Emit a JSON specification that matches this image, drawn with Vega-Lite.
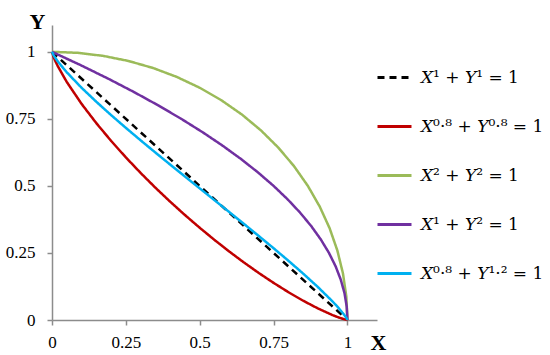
{
  "$schema": "https://vega.github.io/schema/vega-lite/v6.json",
  "width": 325,
  "height": 295,
  "autosize": {"type": "none"},
  "padding": {"left": 52, "top": 25, "right": 173, "bottom": 35},
  "background": "white",
  "config": {
    "view": {"stroke": null},
    "font": "Liberation Serif"
  },
  "datasets": {
    "curves": [
      {"s": "𝑋¹ + 𝑌¹ = 1", "x": 0, "y": 1},
      {"s": "𝑋¹ + 𝑌¹ = 1", "x": 1, "y": 0},

      {"s": "𝑋⁰·⁸ + 𝑌⁰·⁸ = 1", "x": 0, "y": 1},
      {"s": "𝑋⁰·⁸ + 𝑌⁰·⁸ = 1", "x": 0.005, "y": 0.982},
      {"s": "𝑋⁰·⁸ + 𝑌⁰·⁸ = 1", "x": 0.01, "y": 0.9687},
      {"s": "𝑋⁰·⁸ + 𝑌⁰·⁸ = 1", "x": 0.02, "y": 0.9457},
      {"s": "𝑋⁰·⁸ + 𝑌⁰·⁸ = 1", "x": 0.05, "y": 0.8876},
      {"s": "𝑋⁰·⁸ + 𝑌⁰·⁸ = 1", "x": 0.1, "y": 0.806},
      {"s": "𝑋⁰·⁸ + 𝑌⁰·⁸ = 1", "x": 0.15, "y": 0.734},
      {"s": "𝑋⁰·⁸ + 𝑌⁰·⁸ = 1", "x": 0.2, "y": 0.668},
      {"s": "𝑋⁰·⁸ + 𝑌⁰·⁸ = 1", "x": 0.25, "y": 0.6063},
      {"s": "𝑋⁰·⁸ + 𝑌⁰·⁸ = 1", "x": 0.3, "y": 0.5483},
      {"s": "𝑋⁰·⁸ + 𝑌⁰·⁸ = 1", "x": 0.35, "y": 0.4933},
      {"s": "𝑋⁰·⁸ + 𝑌⁰·⁸ = 1", "x": 0.4, "y": 0.4411},
      {"s": "𝑋⁰·⁸ + 𝑌⁰·⁸ = 1", "x": 0.45, "y": 0.3913},
      {"s": "𝑋⁰·⁸ + 𝑌⁰·⁸ = 1", "x": 0.5, "y": 0.3439},
      {"s": "𝑋⁰·⁸ + 𝑌⁰·⁸ = 1", "x": 0.55, "y": 0.2985},
      {"s": "𝑋⁰·⁸ + 𝑌⁰·⁸ = 1", "x": 0.6, "y": 0.2553},
      {"s": "𝑋⁰·⁸ + 𝑌⁰·⁸ = 1", "x": 0.65, "y": 0.2142},
      {"s": "𝑋⁰·⁸ + 𝑌⁰·⁸ = 1", "x": 0.7, "y": 0.1752},
      {"s": "𝑋⁰·⁸ + 𝑌⁰·⁸ = 1", "x": 0.75, "y": 0.1384},
      {"s": "𝑋⁰·⁸ + 𝑌⁰·⁸ = 1", "x": 0.8, "y": 0.1039},
      {"s": "𝑋⁰·⁸ + 𝑌⁰·⁸ = 1", "x": 0.85, "y": 0.072},
      {"s": "𝑋⁰·⁸ + 𝑌⁰·⁸ = 1", "x": 0.9, "y": 0.0431},
      {"s": "𝑋⁰·⁸ + 𝑌⁰·⁸ = 1", "x": 0.95, "y": 0.018},
      {"s": "𝑋⁰·⁸ + 𝑌⁰·⁸ = 1", "x": 0.97, "y": 0.0095},
      {"s": "𝑋⁰·⁸ + 𝑌⁰·⁸ = 1", "x": 0.99, "y": 0.0024},
      {"s": "𝑋⁰·⁸ + 𝑌⁰·⁸ = 1", "x": 1, "y": 0},

      {"s": "𝑋² + 𝑌² = 1", "x": 0, "y": 1},
      {"s": "𝑋² + 𝑌² = 1", "x": 0.0872, "y": 0.9962},
      {"s": "𝑋² + 𝑌² = 1", "x": 0.1736, "y": 0.9848},
      {"s": "𝑋² + 𝑌² = 1", "x": 0.2588, "y": 0.9659},
      {"s": "𝑋² + 𝑌² = 1", "x": 0.342, "y": 0.9397},
      {"s": "𝑋² + 𝑌² = 1", "x": 0.4226, "y": 0.9063},
      {"s": "𝑋² + 𝑌² = 1", "x": 0.5, "y": 0.866},
      {"s": "𝑋² + 𝑌² = 1", "x": 0.5736, "y": 0.8192},
      {"s": "𝑋² + 𝑌² = 1", "x": 0.6428, "y": 0.766},
      {"s": "𝑋² + 𝑌² = 1", "x": 0.7071, "y": 0.7071},
      {"s": "𝑋² + 𝑌² = 1", "x": 0.766, "y": 0.6428},
      {"s": "𝑋² + 𝑌² = 1", "x": 0.8192, "y": 0.5736},
      {"s": "𝑋² + 𝑌² = 1", "x": 0.866, "y": 0.5},
      {"s": "𝑋² + 𝑌² = 1", "x": 0.9063, "y": 0.4226},
      {"s": "𝑋² + 𝑌² = 1", "x": 0.9397, "y": 0.342},
      {"s": "𝑋² + 𝑌² = 1", "x": 0.9659, "y": 0.2588},
      {"s": "𝑋² + 𝑌² = 1", "x": 0.9848, "y": 0.1736},
      {"s": "𝑋² + 𝑌² = 1", "x": 0.9962, "y": 0.0872},
      {"s": "𝑋² + 𝑌² = 1", "x": 1, "y": 0},

      {"s": "𝑋¹ + 𝑌² = 1", "x": 0, "y": 1},
      {"s": "𝑋¹ + 𝑌² = 1", "x": 0.0975, "y": 0.95},
      {"s": "𝑋¹ + 𝑌² = 1", "x": 0.19, "y": 0.9},
      {"s": "𝑋¹ + 𝑌² = 1", "x": 0.2775, "y": 0.85},
      {"s": "𝑋¹ + 𝑌² = 1", "x": 0.36, "y": 0.8},
      {"s": "𝑋¹ + 𝑌² = 1", "x": 0.4375, "y": 0.75},
      {"s": "𝑋¹ + 𝑌² = 1", "x": 0.51, "y": 0.7},
      {"s": "𝑋¹ + 𝑌² = 1", "x": 0.5775, "y": 0.65},
      {"s": "𝑋¹ + 𝑌² = 1", "x": 0.64, "y": 0.6},
      {"s": "𝑋¹ + 𝑌² = 1", "x": 0.6975, "y": 0.55},
      {"s": "𝑋¹ + 𝑌² = 1", "x": 0.75, "y": 0.5},
      {"s": "𝑋¹ + 𝑌² = 1", "x": 0.7975, "y": 0.45},
      {"s": "𝑋¹ + 𝑌² = 1", "x": 0.84, "y": 0.4},
      {"s": "𝑋¹ + 𝑌² = 1", "x": 0.8775, "y": 0.35},
      {"s": "𝑋¹ + 𝑌² = 1", "x": 0.91, "y": 0.3},
      {"s": "𝑋¹ + 𝑌² = 1", "x": 0.9375, "y": 0.25},
      {"s": "𝑋¹ + 𝑌² = 1", "x": 0.96, "y": 0.2},
      {"s": "𝑋¹ + 𝑌² = 1", "x": 0.9775, "y": 0.15},
      {"s": "𝑋¹ + 𝑌² = 1", "x": 0.99, "y": 0.1},
      {"s": "𝑋¹ + 𝑌² = 1", "x": 0.9975, "y": 0.05},
      {"s": "𝑋¹ + 𝑌² = 1", "x": 1, "y": 0},

      {"s": "𝑋⁰·⁸ + 𝑌¹·² = 1", "x": 0, "y": 1},
      {"s": "𝑋⁰·⁸ + 𝑌¹·² = 1", "x": 0.005, "y": 0.988},
      {"s": "𝑋⁰·⁸ + 𝑌¹·² = 1", "x": 0.01, "y": 0.979},
      {"s": "𝑋⁰·⁸ + 𝑌¹·² = 1", "x": 0.02, "y": 0.9635},
      {"s": "𝑋⁰·⁸ + 𝑌¹·² = 1", "x": 0.05, "y": 0.9236},
      {"s": "𝑋⁰·⁸ + 𝑌¹·² = 1", "x": 0.1, "y": 0.866},
      {"s": "𝑋⁰·⁸ + 𝑌¹·² = 1", "x": 0.15, "y": 0.8137},
      {"s": "𝑋⁰·⁸ + 𝑌¹·² = 1", "x": 0.2, "y": 0.7641},
      {"s": "𝑋⁰·⁸ + 𝑌¹·² = 1", "x": 0.25, "y": 0.7164},
      {"s": "𝑋⁰·⁸ + 𝑌¹·² = 1", "x": 0.3, "y": 0.6699},
      {"s": "𝑋⁰·⁸ + 𝑌¹·² = 1", "x": 0.35, "y": 0.6243},
      {"s": "𝑋⁰·⁸ + 𝑌¹·² = 1", "x": 0.4, "y": 0.5795},
      {"s": "𝑋⁰·⁸ + 𝑌¹·² = 1", "x": 0.45, "y": 0.535},
      {"s": "𝑋⁰·⁸ + 𝑌¹·² = 1", "x": 0.5, "y": 0.4908},
      {"s": "𝑋⁰·⁸ + 𝑌¹·² = 1", "x": 0.55, "y": 0.4467},
      {"s": "𝑋⁰·⁸ + 𝑌¹·² = 1", "x": 0.6, "y": 0.4025},
      {"s": "𝑋⁰·⁸ + 𝑌¹·² = 1", "x": 0.65, "y": 0.358},
      {"s": "𝑋⁰·⁸ + 𝑌¹·² = 1", "x": 0.7, "y": 0.3131},
      {"s": "𝑋⁰·⁸ + 𝑌¹·² = 1", "x": 0.75, "y": 0.2676},
      {"s": "𝑋⁰·⁸ + 𝑌¹·² = 1", "x": 0.8, "y": 0.2211},
      {"s": "𝑋⁰·⁸ + 𝑌¹·² = 1", "x": 0.85, "y": 0.1731},
      {"s": "𝑋⁰·⁸ + 𝑌¹·² = 1", "x": 0.9, "y": 0.1229},
      {"s": "𝑋⁰·⁸ + 𝑌¹·² = 1", "x": 0.95, "y": 0.0687},
      {"s": "𝑋⁰·⁸ + 𝑌¹·² = 1", "x": 0.97, "y": 0.0448},
      {"s": "𝑋⁰·⁸ + 𝑌¹·² = 1", "x": 0.99, "y": 0.0179},
      {"s": "𝑋⁰·⁸ + 𝑌¹·² = 1", "x": 0.995, "y": 0.01},
      {"s": "𝑋⁰·⁸ + 𝑌¹·² = 1", "x": 0.999, "y": 0.0026},
      {"s": "𝑋⁰·⁸ + 𝑌¹·² = 1", "x": 1, "y": 0}
    ]
  },
  "data": {"name": "curves"},
  "mark": {"type": "line", "strokeWidth": 2.5, "clip": false},
  "encoding": {
    "x": {
      "field": "x",
      "type": "quantitative",
      "scale": {"domain": [0, 1.1], "nice": false, "zero": false},
      "axis": {
        "title": "X",
        "values": [0, 0.25, 0.5, 0.75, 1],
        "labelExpr": "'' + datum.value",
        "grid": false,
        "domainColor": "#8c8c8c",
        "domainWidth": 1.5,
        "tickColor": "#8c8c8c",
        "tickWidth": 1.5,
        "tickSize": 5,
        "labelPadding": 9,
        "labelFont": "Liberation Serif",
        "labelFontSize": 17,
        "labelColor": "#000000",
        "labelFlush": false,
        "titleFont": "Liberation Serif",
        "titleFontSize": 22,
        "titleFontWeight": "bold",
        "titleColor": "#000000",
        "titleAnchor": null,
        "titleAlign": "center",
        "titleBaseline": "alphabetic",
        "titleX": 326,
        "titleY": 29
      }
    },
    "y": {
      "field": "y",
      "type": "quantitative",
      "scale": {"domain": [0, 1.1], "nice": false, "zero": false},
      "axis": {
        "title": "Y",
        "values": [0, 0.25, 0.5, 0.75, 1],
        "labelExpr": "'' + datum.value",
        "grid": false,
        "domainColor": "#8c8c8c",
        "domainWidth": 1.5,
        "tickColor": "#8c8c8c",
        "tickWidth": 1.5,
        "tickSize": 5,
        "labelPadding": 12,
        "labelFont": "Liberation Serif",
        "labelFontSize": 17,
        "labelColor": "#000000",
        "labelFlush": false,
        "titleFont": "Liberation Serif",
        "titleFontSize": 22,
        "titleFontWeight": "bold",
        "titleColor": "#000000",
        "titleAngle": 0,
        "titleAnchor": null,
        "titleAlign": "center",
        "titleBaseline": "alphabetic",
        "titleX": -15,
        "titleY": 3
      }
    },
    "color": {
      "field": "s",
      "type": "nominal",
      "sort": ["𝑋¹ + 𝑌¹ = 1", "𝑋⁰·⁸ + 𝑌⁰·⁸ = 1", "𝑋² + 𝑌² = 1", "𝑋¹ + 𝑌² = 1", "𝑋⁰·⁸ + 𝑌¹·² = 1"],
      "scale": {
        "domain": ["𝑋¹ + 𝑌¹ = 1", "𝑋⁰·⁸ + 𝑌⁰·⁸ = 1", "𝑋² + 𝑌² = 1", "𝑋¹ + 𝑌² = 1", "𝑋⁰·⁸ + 𝑌¹·² = 1"],
        "range": ["#000000", "#C00000", "#9BBB59", "#7030A0", "#00B0F0"]
      },
      "legend": {
        "title": null,
        "orient": "none",
        "legendX": 324,
        "legendY": 34,
        "symbolType": "stroke",
        "symbolSize": 1156,
        "symbolStrokeWidth": 3,
        "labelOffset": 8,
        "labelFont": "DejaVu Serif",
        "labelFontSize": 17,
        "labelColor": "#000000",
        "labelLimit": 300,
        "rowPadding": 22
      }
    },
    "strokeDash": {
      "field": "s",
      "type": "nominal",
      "scale": {
        "domain": ["𝑋¹ + 𝑌¹ = 1", "𝑋⁰·⁸ + 𝑌⁰·⁸ = 1", "𝑋² + 𝑌² = 1", "𝑋¹ + 𝑌² = 1", "𝑋⁰·⁸ + 𝑌¹·² = 1"],
        "range": [[7, 5], [1, 0], [1, 0], [1, 0], [1, 0]]
      },
      "legend": {
        "title": null,
        "orient": "none",
        "legendX": 324,
        "legendY": 34,
        "symbolType": "stroke",
        "symbolSize": 1156,
        "symbolStrokeWidth": 3,
        "labelOffset": 8,
        "labelFont": "DejaVu Serif",
        "labelFontSize": 17,
        "labelColor": "#000000",
        "labelLimit": 300,
        "rowPadding": 22
      }
    }
  }
}
